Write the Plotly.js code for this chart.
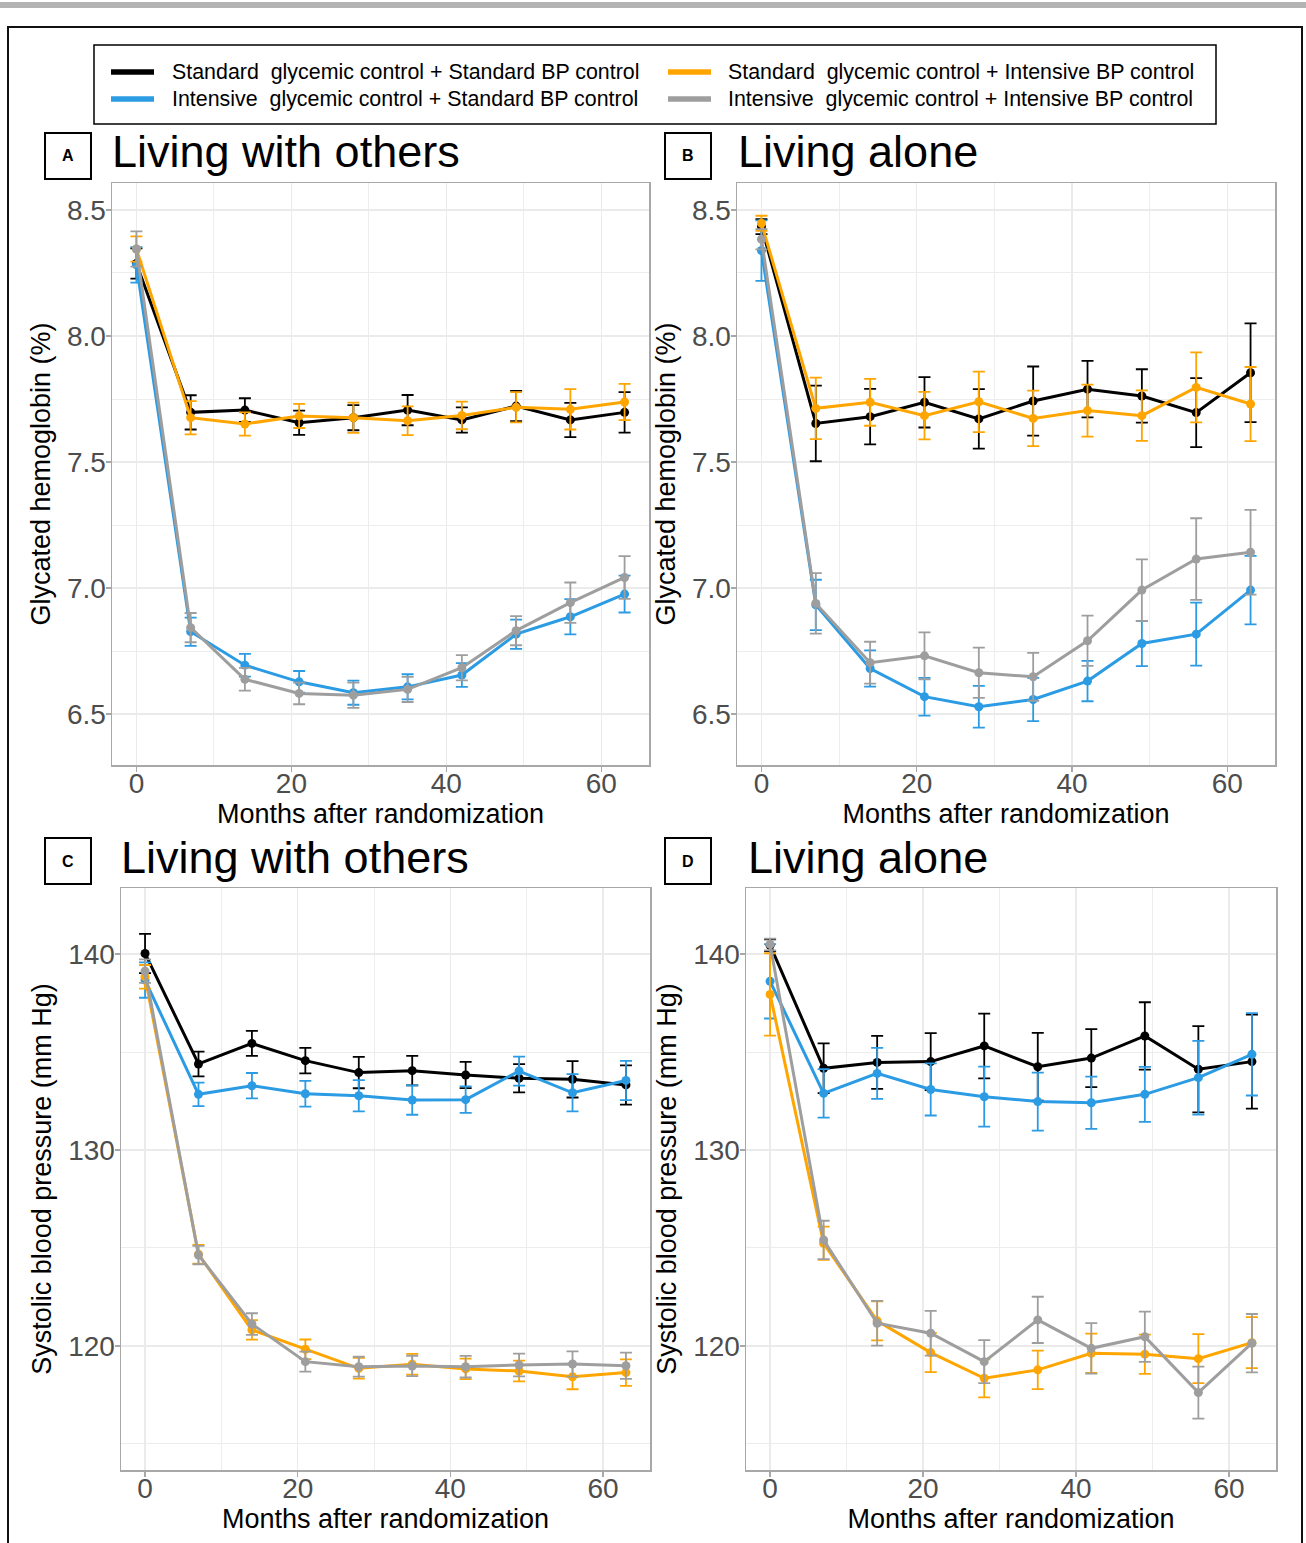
<!DOCTYPE html>
<html>
<head>
<meta charset="utf-8">
<script src="https://cdn.plot.ly/plotly-3.0.1.min.js"></script>
<style>html,body{margin:0;padding:0;background:#fff;}#chart{width:1306px;height:1543px;}</style>
</head>
<body>
<div id="chart"></div>
<script>
// ---- Data ----
const months = [0, 7, 14, 21, 28, 35, 42, 49, 56, 63];
const groupNames = [
  "Standard  glycemic control + Standard BP control",
  "Intensive  glycemic control + Standard BP control",
  "Standard  glycemic control + Intensive BP control",
  "Intensive  glycemic control + Intensive BP control"
];
const groupColors = ["#000000", "#2b9be3", "#ffa500", "#9e9e9e"];
const panelLetters = ["A", "B", "C", "D"];
const panelTitles = ["Living with others", "Living alone", "Living with others", "Living alone"];
const xTitle = "Months after randomization";
const yTitleHb = "Glycated hemoglobin (%)";
const yTitleBp = "Systolic blood pressure (mm Hg)";
const xTickVals = [0, 20, 40, 60];

// Panel A: HbA1c, living with others
const hbOthers_SS = [8.288, 7.697, 7.706, 7.656, 7.676, 7.706, 7.667, 7.722, 7.667, 7.697];
const hbOthers_SS_err = [0.06, 0.068, 0.047, 0.048, 0.05, 0.06, 0.05, 0.06, 0.068, 0.08];
const hbOthers_IS = [8.282, 6.827, 6.694, 6.628, 6.585, 6.608, 6.655, 6.817, 6.886, 6.976];
const hbOthers_IS_err = [0.07, 0.056, 0.045, 0.043, 0.048, 0.05, 0.047, 0.058, 0.07, 0.073];
const hbOthers_SI = [8.345, 7.676, 7.651, 7.683, 7.676, 7.664, 7.685, 7.717, 7.709, 7.738];
const hbOthers_SI_err = [0.05, 0.066, 0.046, 0.048, 0.06, 0.057, 0.055, 0.06, 0.08, 0.072];
const hbOthers_II = [8.345, 6.843, 6.638, 6.582, 6.575, 6.598, 6.684, 6.831, 6.942, 7.042];
const hbOthers_II_err = [0.07, 0.058, 0.045, 0.043, 0.05, 0.05, 0.05, 0.058, 0.08, 0.085];

// Panel B: HbA1c, living alone
const hbAlone_SS = [8.434, 7.653, 7.68, 7.737, 7.671, 7.742, 7.789, 7.762, 7.696, 7.854];
const hbAlone_SS_err = [0.03, 0.15, 0.11, 0.1, 0.118, 0.137, 0.112, 0.106, 0.137, 0.196];
const hbAlone_IS = [8.339, 6.933, 6.681, 6.569, 6.529, 6.558, 6.631, 6.78, 6.817, 6.992];
const hbAlone_IS_err = [0.12, 0.1, 0.072, 0.075, 0.083, 0.086, 0.08, 0.09, 0.125, 0.136];
const hbAlone_SI = [8.447, 7.713, 7.737, 7.684, 7.739, 7.673, 7.704, 7.684, 7.796, 7.73];
const hbAlone_SI_err = [0.03, 0.122, 0.093, 0.094, 0.12, 0.11, 0.103, 0.1, 0.139, 0.147];
const hbAlone_II = [8.384, 6.939, 6.704, 6.731, 6.664, 6.648, 6.791, 6.992, 7.115, 7.142];
const hbAlone_II_err = [0.04, 0.12, 0.083, 0.093, 0.1, 0.095, 0.1, 0.122, 0.162, 0.168];

// Panel C: SBP, living with others
const bpOthers_SS = [140.03, 134.39, 135.44, 134.56, 133.95, 134.05, 133.83, 133.66, 133.61, 133.32];
const bpOthers_SS_err = [1.0, 0.63, 0.64, 0.65, 0.8, 0.75, 0.67, 0.72, 0.93, 1.0];
const bpOthers_IS = [138.67, 132.84, 133.28, 132.87, 132.77, 132.55, 132.57, 134.03, 132.92, 133.55];
const bpOthers_IS_err = [0.9, 0.6, 0.65, 0.66, 0.8, 0.75, 0.68, 0.74, 0.95, 1.0];
const bpOthers_SI = [138.84, 124.68, 120.82, 119.83, 118.86, 119.07, 118.83, 118.72, 118.43, 118.64];
const bpOthers_SI_err = [0.6, 0.48, 0.5, 0.5, 0.53, 0.53, 0.52, 0.53, 0.64, 0.68];
const bpOthers_II = [139.13, 124.64, 121.12, 119.2, 118.94, 118.98, 118.94, 119.03, 119.08, 118.99];
const bpOthers_II_err = [0.6, 0.47, 0.55, 0.51, 0.51, 0.52, 0.55, 0.58, 0.64, 0.67];

// Panel D: SBP, living alone
const bpAlone_SS = [140.45, 134.17, 134.47, 134.51, 135.31, 134.25, 134.69, 135.82, 134.12, 134.51];
const bpAlone_SS_err = [0.3, 1.27, 1.35, 1.45, 1.65, 1.73, 1.48, 1.72, 2.2, 2.4];
const bpAlone_IS = [138.61, 132.89, 133.91, 133.09, 132.72, 132.47, 132.41, 132.84, 133.69, 134.88];
const bpAlone_IS_err = [1.9, 1.24, 1.3, 1.33, 1.53, 1.48, 1.33, 1.4, 1.88, 2.1];
const bpAlone_SI = [137.94, 125.24, 121.28, 119.66, 118.35, 118.78, 119.63, 119.58, 119.35, 120.17];
const bpAlone_SI_err = [2.1, 0.85, 1.0, 1.0, 0.97, 0.98, 1.0, 1.0, 1.25, 1.3];
const bpAlone_II = [140.49, 125.41, 121.16, 120.65, 119.2, 121.33, 119.88, 120.47, 117.62, 120.14];
const bpAlone_II_err = [0.3, 0.98, 1.14, 1.14, 1.1, 1.18, 1.29, 1.28, 1.33, 1.49];

// ---- Build ----
const W = 1306, H = 1543;
const px = v => v / W;
const py = v => 1 - v / H;
const FONT = "Liberation Sans, Arial, Helvetica, sans-serif";

const panelData = [
  [[hbOthers_SS, hbOthers_SS_err], [hbOthers_IS, hbOthers_IS_err], [hbOthers_SI, hbOthers_SI_err], [hbOthers_II, hbOthers_II_err]],
  [[hbAlone_SS, hbAlone_SS_err], [hbAlone_IS, hbAlone_IS_err], [hbAlone_SI, hbAlone_SI_err], [hbAlone_II, hbAlone_II_err]],
  [[bpOthers_SS, bpOthers_SS_err], [bpOthers_IS, bpOthers_IS_err], [bpOthers_SI, bpOthers_SI_err], [bpOthers_II, bpOthers_II_err]],
  [[bpAlone_SS, bpAlone_SS_err], [bpAlone_IS, bpAlone_IS_err], [bpAlone_SI, bpAlone_SI_err], [bpAlone_II, bpAlone_II_err]]
];

// plot-area pixel boxes [left, right, top, bottom]
const boxes = [[112, 649, 183, 765], [737, 1275, 183, 765], [121, 650, 888, 1470], [746, 1276, 888, 1470]];
// letter boxes [left, top] and title x
const letterBoxes = [[45, 133, 112], [665, 133, 738], [45, 838, 121], [665, 838, 748]];

const traces = [];
panelData.forEach((groups, p) => {
  const sfx = p === 0 ? "" : String(p + 1);
  groups.forEach((g, i) => {
    traces.push({
      type: "scatter", mode: "lines+markers",
      x: months, y: g[0],
      error_y: {type: "data", array: g[1], visible: true, color: groupColors[i], thickness: 1.8, width: 6},
      line: {color: groupColors[i], width: 3},
      marker: {color: groupColors[i], size: 9},
      name: groupNames[i], showlegend: false,
      xaxis: "x" + sfx, yaxis: "y" + sfx, hoverinfo: "x+y"
    });
  });
});

const layout = {
  width: W, height: H,
  margin: {l: 0, r: 0, t: 0, b: 0},
  paper_bgcolor: "#ffffff", plot_bgcolor: "#ffffff",
  font: {family: FONT, color: "#000"},
  showlegend: false,
  shapes: [], annotations: []
};

function xAxis(box, yref) {
  return {
    domain: [px(box[0]), px(box[1])], anchor: yref,
    range: [-3.15, 66.15], tickvals: xTickVals, ticktext: xTickVals.map(String),
    showgrid: true, gridcolor: "#ebebeb", gridwidth: 1.5,
    minor: {dtick: 10, tick0: 0, showgrid: true, gridcolor: "#ededed", gridwidth: 1, ticks: ""},
    zeroline: false, showline: true, mirror: true, linecolor: "#a8a8a8", linewidth: 1.5,
    ticks: "outside", ticklen: 5, tickwidth: 1.2, tickcolor: "#a8a8a8",
    ticklabelstandoff: -12,
    tickfont: {size: 28, color: "#4d4d4d", family: FONT},
    title: {text: xTitle, font: {size: 27, color: "#000", family: FONT}, standoff: 4},
    automargin: false
  };
}
function yAxis(box, xref, isHb) {
  return {
    domain: [py(box[3]), py(box[2])], anchor: xref,
    range: isHb ? [6.298, 8.607] : [113.67, 143.37],
    tick0: 0, dtick: isHb ? 0.5 : 10, tickformat: isHb ? ".1f" : "d",
    showgrid: true, gridcolor: "#ebebeb", gridwidth: 1.5,
    minor: {dtick: isHb ? 0.25 : 5, showgrid: true, gridcolor: "#ededed", gridwidth: 1, ticks: ""},
    zeroline: false, showline: true, mirror: true, linecolor: "#a8a8a8", linewidth: 1.5,
    ticks: "outside", ticklen: 5, tickwidth: 1.2, tickcolor: "#a8a8a8",
    ticklabelstandoff: -6,
    tickfont: {size: 28, color: "#4d4d4d", family: FONT},
    title: {text: isHb ? yTitleHb : yTitleBp, font: {size: 27, color: "#000", family: FONT}, standoff: 8},
    automargin: false
  };
}

boxes.forEach((b, p) => {
  const sfx = p === 0 ? "" : String(p + 1);
  layout["xaxis" + sfx] = xAxis(b, "y" + sfx);
  layout["yaxis" + sfx] = yAxis(b, "x" + sfx, p < 2);
});

// outer decorations
layout.shapes.push({type: "rect", xref: "paper", yref: "paper", x0: 0, x1: 1, y0: py(8), y1: py(2),
  fillcolor: "#b3b3b3", line: {width: 0}, layer: "below"});
layout.shapes.push({type: "rect", xref: "paper", yref: "paper", x0: px(8), x1: px(1302), y0: py(1560), y1: py(27),
  line: {color: "#111", width: 2}, fillcolor: "rgba(0,0,0,0)", layer: "below"});

// legend box
layout.shapes.push({type: "rect", xref: "paper", yref: "paper", x0: px(94), x1: px(1216), y0: py(124), y1: py(45),
  line: {color: "#000", width: 1.5}, fillcolor: "#fff", layer: "below"});
const legendSlots = [[111, 170, 72], [111, 170, 99], [668, 726, 72], [668, 726, 99]];
groupNames.forEach((name, i) => {
  const s = legendSlots[i];
  layout.shapes.push({type: "line", xref: "paper", yref: "paper", x0: px(s[0]), x1: px(s[0] + 43), y0: py(s[2]), y1: py(s[2]),
    line: {color: groupColors[i], width: 5.5}});
  layout.annotations.push({xref: "paper", yref: "paper", x: px(s[1]), y: py(s[2]), xanchor: "left", yanchor: "middle",
    text: name.replace(/  /g, "&nbsp; "), showarrow: false, font: {size: 21.4, color: "#000", family: FONT}});
});

// panel letters and titles
letterBoxes.forEach((lb, p) => {
  layout.shapes.push({type: "rect", xref: "paper", yref: "paper", x0: px(lb[0]), x1: px(lb[0] + 46), y0: py(lb[1] + 46), y1: py(lb[1]),
    line: {color: "#000", width: 2}, fillcolor: "rgba(0,0,0,0)"});
  layout.annotations.push({xref: "paper", yref: "paper", x: px(lb[0] + 23), y: py(lb[1] + 23), xanchor: "center", yanchor: "middle",
    text: "<b>" + panelLetters[p] + "</b>", showarrow: false, font: {size: 16, color: "#000", family: FONT}});
  layout.annotations.push({xref: "paper", yref: "paper", x: px(lb[2] - 2), y: py(lb[1] + 19), xanchor: "left", yanchor: "middle",
    text: panelTitles[p], showarrow: false, font: {size: 45, color: "#000", family: FONT}});
});

Plotly.newPlot("chart", traces, layout, {displayModeBar: false, staticPlot: true});
</script>
</body>
</html>
